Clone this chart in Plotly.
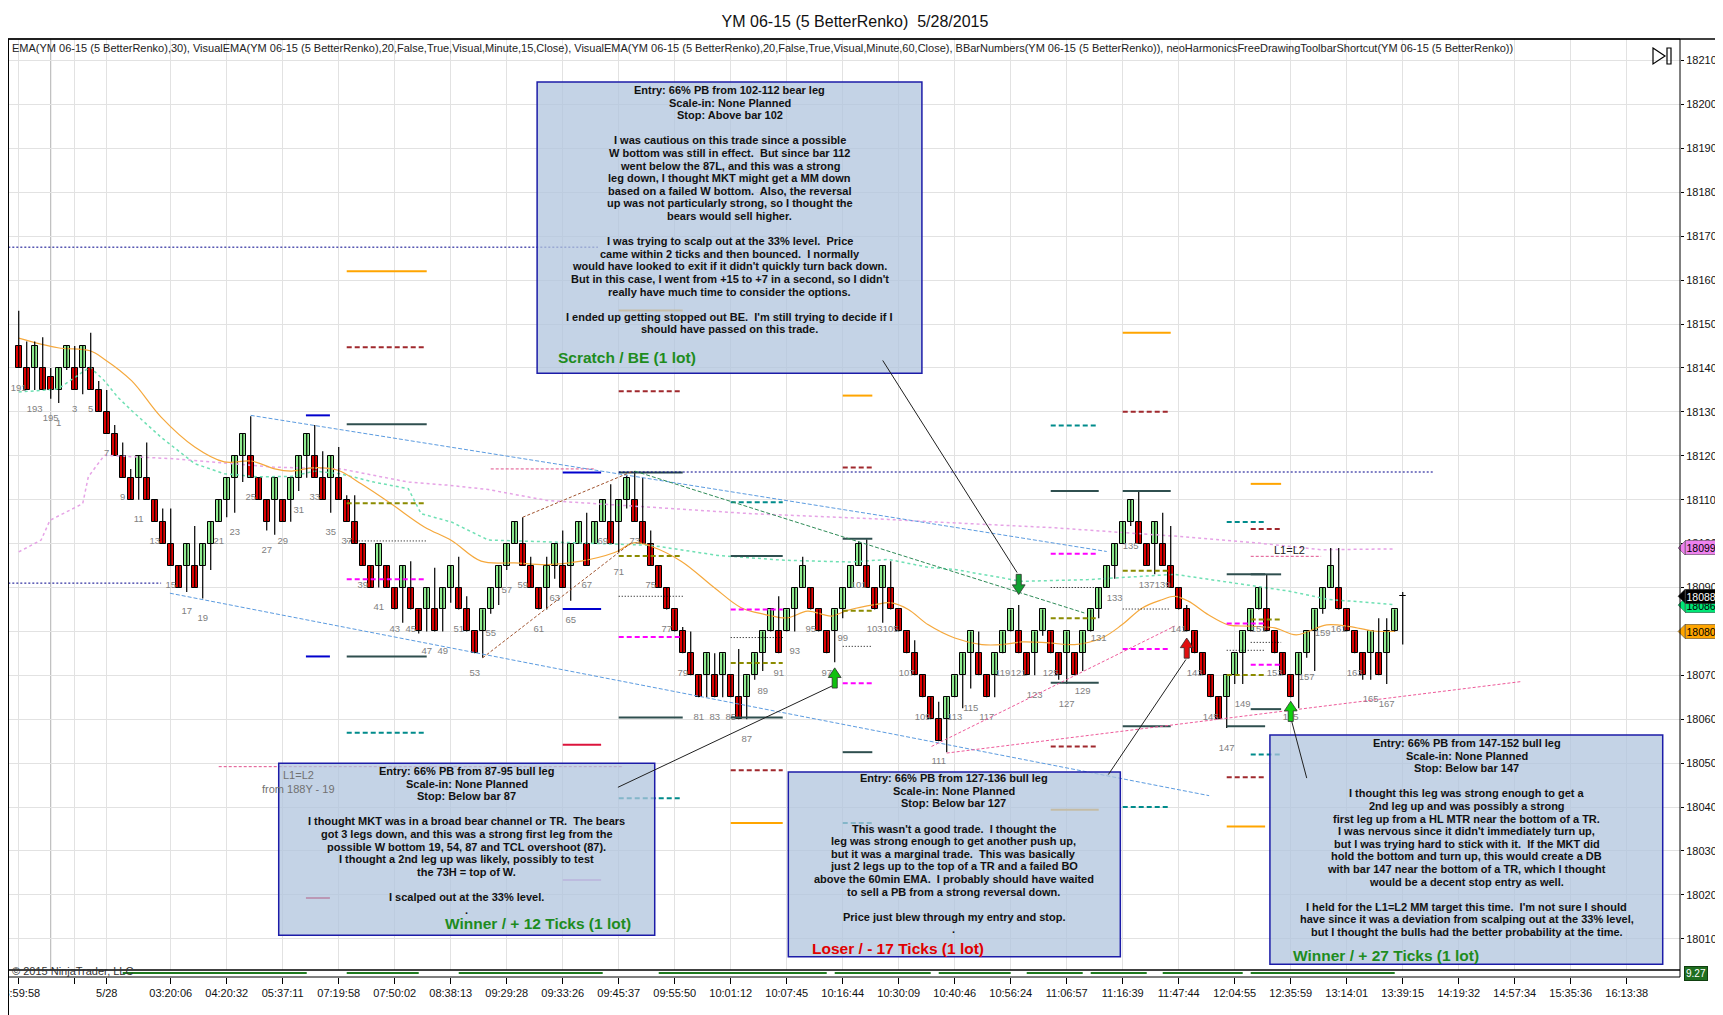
import plotly.graph_objects as go

# ---------------- data ----------------
bar_numbers = [191, 192, 193, 194, 195] + list(range(1, 170))

opens = [18145, 18140, 18140, 18140, 18138, 18135, 18140, 18140, 18140, 18140,
         18135, 18130, 18125, 18120, 18115, 18115, 18115, 18110, 18105, 18100,
         18095, 18095, 18095, 18095, 18100, 18105, 18110, 18115, 18120, 18120,
         18115, 18110, 18110, 18110, 18110, 18115, 18120, 18120, 18115, 18115,
         18115, 18110, 18105, 18100, 18095, 18095, 18095, 18090, 18090, 18090,
         18085, 18085, 18085, 18085, 18090, 18090, 18085, 18080, 18080, 18085,
         18090, 18095, 18100, 18100, 18095, 18090, 18090, 18095, 18095, 18095,
         18100, 18100, 18100, 18105, 18105, 18105, 18110, 18110, 18105, 18100,
         18095, 18090, 18085, 18080, 18075, 18070, 18070, 18070, 18070, 18070,
         18065, 18065, 18070, 18075, 18080, 18080, 18080, 18085, 18090, 18090,
         18085, 18080, 18080, 18085, 18090, 18095, 18095, 18090, 18090, 18090,
         18085, 18080, 18075, 18070, 18065, 18060, 18060, 18065, 18070, 18075,
         18075, 18070, 18070, 18075, 18080, 18080, 18075, 18075, 18080, 18080,
         18075, 18075, 18075, 18075, 18080, 18085, 18090, 18095, 18100, 18105,
         18105, 18100, 18100, 18100, 18095, 18090, 18085, 18080, 18075, 18070,
         18065, 18065, 18070, 18075, 18080, 18085, 18085, 18080, 18075, 18070,
         18070, 18075, 18080, 18085, 18090, 18090, 18085, 18080, 18075, 18075,
         18075, 18075, 18080, 18088]
closes = [18140, 18135, 18145, 18135, 18135, 18140, 18145, 18135, 18145, 18135,
          18130, 18125, 18120, 18115, 18110, 18120, 18110, 18105, 18100, 18095,
          18090, 18100, 18090, 18100, 18105, 18110, 18115, 18120, 18125, 18115,
          18110, 18105, 18115, 18105, 18115, 18120, 18125, 18115, 18110, 18120,
          18110, 18105, 18100, 18095, 18090, 18100, 18090, 18085, 18095, 18085,
          18080, 18090, 18080, 18090, 18095, 18085, 18080, 18075, 18085, 18090,
          18095, 18100, 18105, 18095, 18090, 18085, 18095, 18100, 18090, 18100,
          18105, 18095, 18105, 18110, 18100, 18110, 18115, 18105, 18100, 18095,
          18090, 18085, 18080, 18075, 18070, 18065, 18075, 18065, 18075, 18065,
          18060, 18070, 18075, 18080, 18085, 18075, 18085, 18090, 18095, 18085,
          18080, 18075, 18085, 18090, 18095, 18100, 18090, 18085, 18095, 18085,
          18080, 18075, 18070, 18065, 18060, 18055, 18065, 18070, 18075, 18080,
          18070, 18065, 18075, 18080, 18085, 18075, 18070, 18080, 18085, 18075,
          18070, 18080, 18070, 18080, 18085, 18090, 18095, 18100, 18105, 18110,
          18100, 18095, 18105, 18095, 18090, 18085, 18080, 18075, 18070, 18065,
          18060, 18070, 18075, 18080, 18085, 18090, 18080, 18075, 18070, 18065,
          18075, 18080, 18085, 18090, 18095, 18085, 18080, 18075, 18070, 18080,
          18070, 18080, 18085, 18088]
highs = [18153, 18146, 18146, 18147, 18140, 18140, 18145, 18145, 18145, 18148,
         18137, 18135, 18127, 18123, 18117, 18120, 18123, 18110, 18108, 18108,
         18095, 18100, 18104, 18100, 18105, 18110, 18115, 18120, 18125, 18129,
         18115, 18110, 18115, 18110, 18115, 18120, 18125, 18127, 18121, 18120,
         18122, 18111, 18111, 18100, 18095, 18100, 18095, 18090, 18095, 18096,
         18085, 18090, 18094.5, 18090, 18095, 18097, 18088, 18080, 18085, 18090,
         18095, 18100, 18105, 18106, 18097, 18090, 18097, 18100, 18103, 18100,
         18105, 18107, 18105, 18110, 18113.5, 18110, 18115.5, 18116.5, 18115, 18103,
         18095, 18090, 18085, 18081, 18080, 18070, 18075, 18075, 18075, 18070,
         18076, 18070, 18075, 18080, 18085, 18088, 18085, 18090, 18097, 18090,
         18085, 18080, 18085, 18090, 18095, 18100.5, 18101, 18090, 18095, 18096,
         18085, 18080, 18078, 18070, 18065, 18064, 18065, 18070, 18075, 18080,
         18080, 18070, 18075, 18080, 18085, 18086, 18075, 18080, 18085, 18080,
         18075, 18080, 18075, 18080, 18085, 18090, 18095, 18100, 18105, 18110,
         18112, 18100, 18105, 18107, 18104, 18090, 18086, 18080, 18075, 18070,
         18065, 18070, 18075, 18080, 18085, 18090, 18093, 18080, 18075, 18070,
         18075, 18080, 18085, 18090, 18099, 18099, 18085, 18080, 18075, 18080,
         18083, 18083, 18085, 18089]
lows = [18140, 18135, 18135, 18135, 18133, 18132, 18139.5, 18135, 18134, 18135,
        18130, 18125, 18120, 18115, 18110, 18110, 18110, 18105, 18100, 18095,
        18090, 18089, 18090, 18087.5, 18094, 18105, 18106, 18107, 18114, 18115,
        18110, 18103, 18102, 18105, 18105, 18112, 18115, 18115, 18110, 18107,
        18110, 18105, 18100, 18095, 18090, 18090, 18090, 18085, 18082, 18085,
        18079.5, 18080, 18080, 18080, 18086.5, 18085, 18080, 18075, 18074, 18084,
        18086, 18094, 18100, 18095, 18090, 18085, 18085, 18092, 18090, 18087,
        18100, 18095, 18100, 18105, 18100, 18098, 18108, 18105, 18100, 18095,
        18090, 18085, 18080, 18075, 18070, 18065, 18065, 18065, 18065, 18065,
        18060, 18060, 18069, 18071, 18080, 18075, 18080, 18080, 18090, 18085,
        18080, 18075, 18073, 18083, 18090, 18095, 18090, 18085, 18082, 18085,
        18080, 18075, 18070, 18065, 18060, 18055, 18052.5, 18065, 18062.5, 18067,
        18070, 18065, 18065, 18075, 18080, 18075, 18070, 18070, 18079, 18075,
        18069, 18068, 18070, 18071, 18080, 18083, 18090, 18092, 18100, 18104,
        18100, 18095, 18093, 18095, 18090, 18085, 18080, 18075, 18070, 18065,
        18060, 18058, 18068, 18068, 18080, 18085, 18080, 18075, 18070, 18065,
        18062.5, 18074, 18071, 18084, 18090, 18085, 18080, 18075, 18069, 18069,
        18070, 18068, 18080, 18077]

# moving averages (bar position, price)
ema30_x = [0, 4.9, 8.9, 10.7, 14.1, 17.8, 22, 25.7, 29.1, 32, 34.1, 37, 39.9, 42.8,
           46.6, 50.7, 54.1, 57.8, 62, 66.1, 70.3, 74.4, 77, 79, 82.8, 87, 90.3, 93.2,
           96.1, 98.6, 101.6, 103.6, 107, 109.1, 111.2, 113.7, 117, 120.4, 122.9,
           125.4, 128.7, 132, 135.4, 137.9, 140.4, 142.9, 144.5, 146.2, 148.7, 151.2,
           153.7, 157, 159.7, 163.5, 166.4, 169.3, 172]
ema30_y = [18146.8, 18144.6, 18143.9, 18142, 18137.1, 18128.8, 18122, 18118.6, 18118.8,
           18117, 18116.5, 18117.3, 18116.7, 18113.6, 18109, 18103.8, 18100.7, 18096,
           18095.6, 18095.2, 18096, 18097.9, 18100.2, 18099.4, 18096, 18089.9, 18085.4,
           18083.9, 18083.1, 18084.6, 18083.5, 18084.8, 18086.1, 18086.5, 18085,
           18081.5, 18078.5, 18077, 18077, 18077.6, 18077.4, 18077, 18078.5, 18081.5,
           18085.3, 18087.2, 18088, 18086.9, 18083.8, 18081.5, 18081.2, 18080.8,
           18079.2, 18081.5, 18081.1, 18080.1, 18080]
ema15m_x = [0, 4.9, 8.9, 10.7, 12.4, 14.1, 17.8, 22, 25.7, 29.9, 34.1, 37, 40.2, 44.4,
            48.7, 50.3, 54.1, 58.7, 66.1, 79.1, 87.4, 95.7, 104, 108.7, 113.7, 117,
            125.4, 133.7, 144.5, 150.3, 158.7, 163.7, 172]
ema15m_y = [18134.5, 18135.2, 18140.2, 18137.1, 18133.3, 18130.3, 18124.2, 18118.2,
            18115.9, 18115.2, 18115.3, 18116.5, 18115.9, 18114, 18112.5, 18106.8,
            18104.9, 18100.8, 18100.4, 18099.6, 18097.3, 18096.2, 18095.8, 18096.4,
            18094.6, 18094.1, 18091.4, 18091.8, 18093, 18091.4, 18089.2, 18087.3,
            18086.1]
ema60m_x = [0, 2.8, 3.9, 8, 8.7, 10.7, 19.5, 32, 40.3, 48.7, 53.7, 58.7, 66.1, 79.1,
            91.6, 108.7, 113.7, 129.5, 144.5, 154.5, 162.8, 172]
ema60m_y = [18098.1, 18100.8, 18105.3, 18109.1, 18115.2, 18120.1, 18119.3, 18117.4,
            18117, 18114, 18113.3, 18112.3, 18109.8, 18108.3, 18106.8, 18105.5,
            18105, 18103.6, 18101.7, 18100.2, 18098.6, 18098.8]

# harmonic projection levels: start bar, end bar, direction, 8 levels
harm_x0 = [41, 75, 89, 103, 129, 138, 151, 154]
harm_x1 = [51, 83, 95.5, 106.7, 135, 144, 155.8, 157.8]
harm_dir = ["bear", "bear", "bull", "bear", "bull", "bear", "bull", "bear"]
harm_levels = [
    [18162.0, 18144.7, 18127.2, 18109.2, 18100.6, 18091.9, 18074.3, 18056.9],
    [18153.1, 18134.7, 18116.2, 18097.2, 18088.0, 18078.7, 18060.4, 18042.0],
    [18109.4, 18097.2, 18085.0, 18078.6, 18072.8, 18060.4, 18048.4, 18036.4],
    [18133.7, 18117.3, 18101.1, 18084.7, 18076.6, 18068.2, 18052.5, 18036.4],
    [18126.9, 18112.0, 18097.7, 18090.0, 18083.0, 18068.3, 18053.8, 18039.4],
    [18148.0, 18130.0, 18112.0, 18093.8, 18085.1, 18076.0, 18058.4, 18040.0],
    [18104.9, 18093.0, 18081.8, 18075.7, 18070.1, 18058.4, 18046.8, 18035.6],
    [18113.6, 18103.3, 18093.0, 18082.7, 18077.5, 18072.4, 18062.3, 18052.0],
]
short_x0 = [35.9, 68]
short_x1 = [38.9, 72.8]
short_levels = [[18129.2, 18074.3, 18019.3, None],
                [18116.2, 18085.1, 18054.2, 18023.4]]

# dotted / dashed horizontal references
navy_x0 = [-1.3, -1.3, 75]
navy_x1 = [72.4, 17.8, 176.8]
navy_y = [18167.5, 18091.0, 18116.3]
pinkh_x0 = [59, 25, 154]
pinkh_x1 = [72, 75.5, 162.8]
pinkh_y = [18117.0, 18049.2, 18097.1]

# trend lines: x0, y0, x1, y1
trend_lines = {
    "channel": [(29, 18129.2, 136, 18098.2), (18.9, 18088.7, 148.8, 18042.6)],
    "brown": [(58, 18074.0, 76.8, 18100.5), (63, 18106.0, 76.8, 18116.5)],
    "green": [(77, 18116.5, 133.2, 18084.2)],
    "pink": [(114.1, 18053.8, 144.5, 18081.2), (116, 18052.3, 187.9, 18068.6)],
}

# trade arrows
arrow_bar = [102, 125, 146, 159]
arrow_tip = [18071.7, 18088.4, 18078.5, 18064.1]
arrow_dir = ["up", "down", "up", "up"]
arrow_color = ["#10C010", "#10A030", "#E01010", "#10D010"]

# note boxes and connectors
box_x0 = [64.8, 32.5, 96.2, 156.4]
box_x1 = [112.9, 79.5, 137.7, 205.5]
box_y0 = [18138.8, 18010.8, 18005.9, 18004.2]
box_y1 = [18205.1, 18050.0, 18048.0, 18056.4]
note_x = [88.9, 56.0, 116.9, 181.0]
note_first = [18203.3, 18048.2, 18046.6, 18054.6]
conn_x0 = [108.0, 74.9, 136.2, 161.0]
conn_y0 = [18141.7, 18044.5, 18047.4, 18046.6]
conn_x1 = [124.8, 101.7, 145.9, 159.1]
conn_y1 = [18093.4, 18067.6, 18073.6, 18059.7]

notes = [
    ["Entry: 66% PB from 102-112 bear leg", "Scale-in: None Planned", "Stop: Above bar 102", "",
     "I was cautious on this trade since a possible",
     "W bottom was still in effect.  But since bar 112",
     "went below the 87L, and this was a strong",
     "leg down, I thought MKT might get a MM down",
     "based on a failed W bottom.  Also, the reversal",
     "up was not particularly strong, so I thought the",
     "bears would sell higher.", "",
     "I was trying to scalp out at the 33% level.  Price",
     "came within 2 ticks and then bounced.  I normally",
     "would have looked to exit if it didn't quickly turn back down.",
     "But in this case, I went from +15 to +7 in a second, so I didn't",
     "really have much time to consider the options.", "",
     "I ended up getting stopped out BE.  I'm still trying to decide if I",
     "should have passed on this trade."],
    ["Entry: 66% PB from 87-95 bull leg", "Scale-in: None Planned", "Stop: Below bar 87", "",
     "I thought MKT was in a broad bear channel or TR.  The bears",
     "got 3 legs down, and this was a strong first leg from the",
     "possible W bottom 19, 54, 87 and TCL overshoot (87).",
     "I thought a 2nd leg up was likely, possibly to test",
     "the 73H = top of W.", "",
     "I scalped out at the 33% level.", "."],
    ["Entry: 66% PB from 127-136 bull leg", "Scale-in: None Planned", "Stop: Below bar 127", "",
     "This wasn't a good trade.  I thought the",
     "leg was strong enough to get another push up,",
     "but it was a marginal trade.  This was basically",
     "just 2 legs up to the top of a TR and a failed BO",
     "above the 60min EMA.  I probably should have waited",
     "to sell a PB from a strong reversal down.", "",
     "Price just blew through my entry and stop.", "."],
    ["Entry: 66% PB from 147-152 bull leg", "Scale-in: None Planned", "Stop: Below bar 147", "",
     "I thought this leg was strong enough to get a",
     "2nd leg up and was possibly a strong",
     "first leg up from a HL MTR near the bottom of a TR.",
     "I was nervous since it didn't immediately turn up,",
     "but I was trying hard to stick with it.  If the MKT did",
     "hold the bottom and turn up, this would create a DB",
     "with bar 147 near the bottom of a TR, which I thought",
     "would be a decent stop entry as well.", "",
     "I held for the L1=L2 MM target this time.  I'm not sure I should",
     "have since it was a deviation from scalping out at the 33% level,",
     "but I thought the bulls had the better probability at the time."],
]
result_text = ["Scratch / BE (1 lot)", "Winner / + 12 Ticks (1 lot)",
               "Loser / - 17 Ticks (1 lot)", "Winner / + 27 Ticks (1 lot)"]
result_x = [67.2, 64.9, 98.9, 159.0]
result_y = [18142.3, 18013.6, 18007.9, 18006.3]
result_color = ["#1E8C1E", "#1E8C1E", "#E00000", "#1E8C1E"]
result_anchor = ["left", "center", "left", "left"]

# time axis
tick_bars = [0, 7, 11, 19, 26, 33, 40, 47, 54, 61, 68, 75, 82, 89, 96, 103, 110, 117,
             124, 131, 138, 145, 152, 159, 166, 173, 180, 187, 194, 201]
tick_text = ["23:59:58", "", "5/28", "03:20:06", "04:20:32", "05:37:11", "07:19:58",
             "07:50:02", "08:38:13", "09:29:28", "09:33:26", "09:45:37", "09:55:50",
             "10:01:12", "10:07:45", "10:16:44", "10:30:09", "10:40:46", "10:56:24",
             "11:06:57", "11:16:39", "11:47:44", "12:04:55", "12:35:59", "13:14:01",
             "13:39:15", "14:19:32", "14:57:34", "15:35:36", "16:13:38"]

# lower indicator panel
sub_x0 = [13, 41, 55, 80, 102, 115, 126, 134, 143, 154]
sub_x1 = [36, 50, 73, 101, 114, 124, 133, 141, 153, 172]
sub_value = 9.27

tag_values = [18099, 18086, 18088, 18080]
tag_bg = ["#EE82EE", "#00E676", "#000000", "#FFA500"]
tag_fg = ["black", "black", "white", "black"]

# ---------------- figure ----------------
FONT = "Arial, Liberation Sans, sans-serif"
W, H = 1723, 1015
PL, PR, PT, PB = 0, 51, 31, 46
PW, PH = W - PL - PR, H - PT - PB
PX_PER_PT = 4.39
LINE_PT = 12.6 / PX_PER_PT


def px(X):
    return X / PW


def py(Y):
    return (H - PB - Y) / PH


idx = list(range(len(closes)))
fig = go.Figure()

fig.add_trace(go.Scatter(x=ema60m_x, y=ema60m_y, mode="lines",
                         line=dict(color="#E6A3E6", width=1.5, dash="dot"), hoverinfo="skip"))
fig.add_trace(go.Scatter(x=ema15m_x, y=ema15m_y, mode="lines",
                         line=dict(color="#6FE0B4", width=1.5, dash="dot"), hoverinfo="skip"))
fig.add_trace(go.Scatter(x=ema30_x, y=ema30_y, mode="lines", line_shape="spline",
                         line=dict(color="#F5A83C", width=1.2), hoverinfo="skip"))

# candles: wicks then bodies
wx, wy = [], []
for i in idx:
    wx += [i, i, None]
    wy += [lows[i], highs[i], None]
fig.add_trace(go.Scatter(x=wx, y=wy, mode="lines", line=dict(color="black", width=1.2),
                         hoverinfo="skip"))
body_base = [min(o, c) for o, c in zip(opens, closes)]
body_len = [max(abs(c - o), 0.15) for o, c in zip(opens, closes)]
body_col = ["#90EE90" if c >= o else "#E00000" for o, c in zip(opens, closes)]
fig.add_trace(go.Bar(x=idx, y=body_len, base=body_base, width=0.72,
                     marker=dict(color=body_col, line=dict(color="black", width=1)),
                     hoverinfo="skip"))

lab_x, lab_y, lab_t = [], [], []
for i, n in enumerate(bar_numbers[:-1]):
    if n % 2 == 1:
        lab_x.append(i)
        lab_y.append(lows[i] - 4.6)
        lab_t.append(str(n))
fig.add_trace(go.Scatter(x=lab_x, y=lab_y, text=lab_t, mode="text",
                         textfont=dict(family=FONT, size=9.5, color="#808080"), hoverinfo="skip"))

# lower panel line
sx, sy = [], []
for a, b in zip(sub_x0, sub_x1):
    sx += [a, b, None]
    sy += [sub_value, sub_value, None]
fig.add_trace(go.Scatter(x=sx, y=sy, xaxis="x2", yaxis="y2", mode="lines",
                         line=dict(color="#1F7A1F", width=2), hoverinfo="skip"))

shapes = []


def hline(x0, x1, y, color, width=2, dash="solid"):
    shapes.append(dict(type="line", xref="x", yref="y", x0=x0, x1=x1, y0=y, y1=y,
                       line=dict(color=color, width=width, dash=dash), layer="above"))


# session break
shapes.append(dict(type="line", xref="x", yref="paper", x0=4, x1=4, y0=py(962), y1=1,
                   line=dict(color="#B0B0B0", width=1), layer="below"))

BEAR = [("#FFA500", "solid", 2), ("#A0282D", "5px,3px", 2), ("#2F4F4F", "solid", 2),
        ("#8B8B00", "5px,3px", 2), ("#000000", "1px,2px", 1), ("#FF00FF", "5px,3px", 2),
        ("#2F4F4F", "solid", 2), ("#008B8B", "5px,3px", 2)]
BULL = BEAR[::-1]
for x0, x1, d, levels in zip(harm_x0, harm_x1, harm_dir, harm_levels):
    styles = BEAR if d == "bear" else BULL
    for y, (c, ds, w) in zip(levels, styles):
        hline(x0, x1, y, c, w, ds)

SHORT = ["#0000CD", "#0000CD", "#DC143C", "#DDA0DD"]
for x0, x1, levels in zip(short_x0, short_x1, short_levels):
    for y, c in zip(levels, SHORT):
        if y is not None:
            hline(x0, x1, y, c, 2)

for x0, x1, y in zip(navy_x0, navy_x1, navy_y):
    hline(x0, x1, y, "#00008B", 1, "2px,2px")
for x0, x1, y in zip(pinkh_x0, pinkh_x1, pinkh_y):
    hline(x0, x1, y, "#E0508C", 1, "3px,2px")

TREND = {"channel": ("#5B9BE0", "4px,2px"), "brown": ("#A0522D", "3px,2px"),
         "green": ("#2E8B57", "4px,2px"), "pink": ("#EE5A9A", "3px,2px")}
for k, segs in trend_lines.items():
    c, ds = TREND[k]
    for x0, y0, x1, y1 in segs:
        shapes.append(dict(type="line", xref="x", yref="y", x0=x0, y0=y0, x1=x1, y1=y1,
                           line=dict(color=c, width=1, dash=ds), layer="above"))

# note boxes
for x0, x1, y0, y1 in zip(box_x0, box_x1, box_y0, box_y1):
    shapes.append(dict(type="rect", xref="x", yref="y", x0=x0, x1=x1, y0=y0, y1=y1,
                       fillcolor="rgba(176,196,222,0.75)",
                       line=dict(color="#1C1CA8", width=1.5), layer="above"))

for x0, y0, x1, y1 in zip(conn_x0, conn_y0, conn_x1, conn_y1):
    shapes.append(dict(type="line", xref="x", yref="y", x0=x0, y0=y0, x1=x1, y1=y1,
                       line=dict(color="#202020", width=1), layer="above"))

# arrows
HW, SW, HEAD, LEN = 0.8, 0.32, 2.2, 4.6
for b, tip, d, c in zip(arrow_bar, arrow_tip, arrow_dir, arrow_color):
    s = -1 if d == "up" else 1
    pts = [(b, tip), (b + HW, tip + s * HEAD), (b + SW, tip + s * HEAD), (b + SW, tip + s * LEN),
           (b - SW, tip + s * LEN), (b - SW, tip + s * HEAD), (b - HW, tip + s * HEAD)]
    path = "M " + " L ".join(f"{x},{y}" for x, y in pts) + " Z"
    shapes.append(dict(type="path", xref="x", yref="y", path=path, fillcolor=c,
                       line=dict(color="#303030", width=0.8), layer="above"))

# price tag pointers
for v, bg in zip(tag_values, tag_bg):
    shapes.append(dict(type="path", xref="paper", yref="y",
                       path=f"M {px(1670)},{v} L {px(1677)},{v + 1.6} L {px(1677)},{v - 1.6} Z",
                       fillcolor=bg, line=dict(color="#404040", width=0.5), layer="above"))

# frames
shapes += [
    dict(type="rect", xref="paper", yref="paper", x0=0, x1=1, y0=py(962), y1=1,
         line=dict(color="black", width=1)),
    dict(type="rect", xref="paper", yref="paper", x0=0, x1=1, y0=0, y1=py(962),
         line=dict(color="black", width=1)),
    dict(type="line", xref="paper", yref="paper", x0=0, x1=px(1723), y0=1, y1=1,
         line=dict(color="black", width=1.5)),
    dict(type="line", xref="paper", yref="paper", x0=px(1721.5), x1=px(1721.5), y0=1, y1=py(1013),
         line=dict(color="black", width=1.5)),
    dict(type="line", xref="paper", yref="paper", x0=0, x1=px(1723), y0=py(1013), y1=py(1013),
         line=dict(color="black", width=1.5)),
    dict(type="line", xref="paper", yref="paper", x0=px(0.5), x1=px(0.5), y0=1, y1=py(1013),
         line=dict(color="black", width=1)),
    # chart-trader icon
    dict(type="path", xref="paper", yref="paper",
         path=f"M {px(1645)},{py(40)} L {px(1657)},{py(48)} L {px(1645)},{py(56)} Z",
         line=dict(color="black", width=1.2)),
    dict(type="rect", xref="paper", yref="paper", x0=px(1659), x1=px(1663), y0=py(56), y1=py(40),
         line=dict(color="black", width=1.2)),
    dict(type="rect", xref="paper", yref="paper", x0=px(1712), x1=px(1721), y0=py(12), y1=py(1),
         line=dict(color="#606060", width=1)),
]

ann = []
for x, first, lines in zip(note_x, note_first, notes):
    for k, line in enumerate(lines):
        if line:
            ann.append(dict(x=x, y=first - k * LINE_PT, xref="x", yref="y",
                            text="<b>" + line + "</b>", showarrow=False,
                            xanchor="center", yanchor="middle",
                            font=dict(family=FONT, size=11, color="#111111")))
for x, y, txt, c, a in zip(result_x, result_y, result_text, result_color, result_anchor):
    ann.append(dict(x=x, y=y, xref="x", yref="y", text="<b>" + txt + "</b>", showarrow=False,
                    xanchor=a, yanchor="middle", font=dict(family=FONT, size=15.5, color=c)))

ann += [
    dict(x=158.9, y=18098.6, xref="x", yref="y", text="L1=L2", showarrow=False,
         font=dict(family=FONT, size=11, color="#202020")),
    dict(x=35, y=18047.2, xref="x", yref="y", text="L1=L2", showarrow=False,
         font=dict(family=FONT, size=11, color="#707070")),
    dict(x=35, y=18044.2, xref="x", yref="y", text="from 188Y - 19", showarrow=False,
         font=dict(family=FONT, size=11, color="#707070")),
    dict(x=px(2), y=py(40), xref="paper", yref="paper", xanchor="left", yanchor="middle",
         showarrow=False,
         text="EMA(YM 06-15 (5 BetterRenko),30), VisualEMA(YM 06-15 (5 BetterRenko),20,False,True,"
              "Visual,Minute,15,Close), VisualEMA(YM 06-15 (5 BetterRenko),20,False,True,Visual,"
              "Minute,60,Close), BBarNumbers(YM 06-15 (5 BetterRenko)), "
              "neoHarmonicsFreeDrawingToolbarShortcut(YM 06-15 (5 BetterRenko))",
         font=dict(family=FONT, size=11, color="#222222")),
    dict(x=px(2), y=py(963), xref="paper", yref="paper", xanchor="left", yanchor="middle",
         showarrow=False, text="© 2015 NinjaTrader, LLC",
         font=dict(family=FONT, size=11, color="#333333")),
    dict(x=px(1716.5), y=py(6.5), xref="paper", yref="paper", showarrow=False, text="F",
         font=dict(family=FONT, size=8, color="#404040")),
]
for v, bg, fg in zip(tag_values, tag_bg, tag_fg):
    ann.append(dict(x=px(1677), y=v, xref="paper", yref="y", xanchor="left", yanchor="middle",
                    showarrow=False, text=str(v), bgcolor=bg, bordercolor="#404040",
                    borderwidth=0.5, borderpad=1,
                    font=dict(family=FONT, size=10.5, color=fg)))
ann.append(dict(x=px(1676), y=sub_value, xref="paper", yref="y2", xanchor="left",
                yanchor="middle", showarrow=False, text=f"{sub_value:.2f}", bgcolor="#1F6E1F",
                bordercolor="#0F3F0F", borderpad=1,
                font=dict(family=FONT, size=10, color="white")))

fig.update_layout(
    width=W, height=H,
    margin=dict(l=PL, r=PR, t=PT, b=PB, autoexpand=False),
    paper_bgcolor="white", plot_bgcolor="white",
    showlegend=False, bargap=0,
    title=dict(text="YM 06-15 (5 BetterRenko)  5/28/2015", x=847 / W, xanchor="center",
               y=1 - 13 / H, yanchor="middle", font=dict(family=FONT, size=16, color="#111111")),
    xaxis=dict(domain=[0, 1], anchor="y", range=[-1.34, 207.66], tickvals=tick_bars,
               showticklabels=False, showgrid=True, gridcolor="#E2E2E2", zeroline=False,
               ticks="", automargin=False),
    xaxis2=dict(domain=[0, 1], anchor="y2", matches="x", range=[-1.34, 207.66],
                tickvals=tick_bars, ticktext=tick_text, showgrid=False, zeroline=False,
                ticks="outside", ticklen=6, tickcolor="black", ticklabeloverflow="allow",
                automargin=False,
                tickfont=dict(family=FONT, size=11, color="#111111")),
    yaxis=dict(domain=[py(962), 1], range=[18002.9, 18214.9], side="right", tick0=18010,
               dtick=10, tickformat="d", ticks="outside", ticklen=3, tickcolor="black",
               showgrid=True, gridcolor="#E2E2E2", zeroline=False, automargin=False,
               ticklabeloverflow="allow",
               tickfont=dict(family=FONT, size=11, color="#111111")),
    yaxis2=dict(domain=[0, py(962)], range=[8.6, 9.8], showticklabels=False, showgrid=False,
                zeroline=False, automargin=False),
    shapes=shapes,
    annotations=ann,
)

fig.write_html("out.html")
